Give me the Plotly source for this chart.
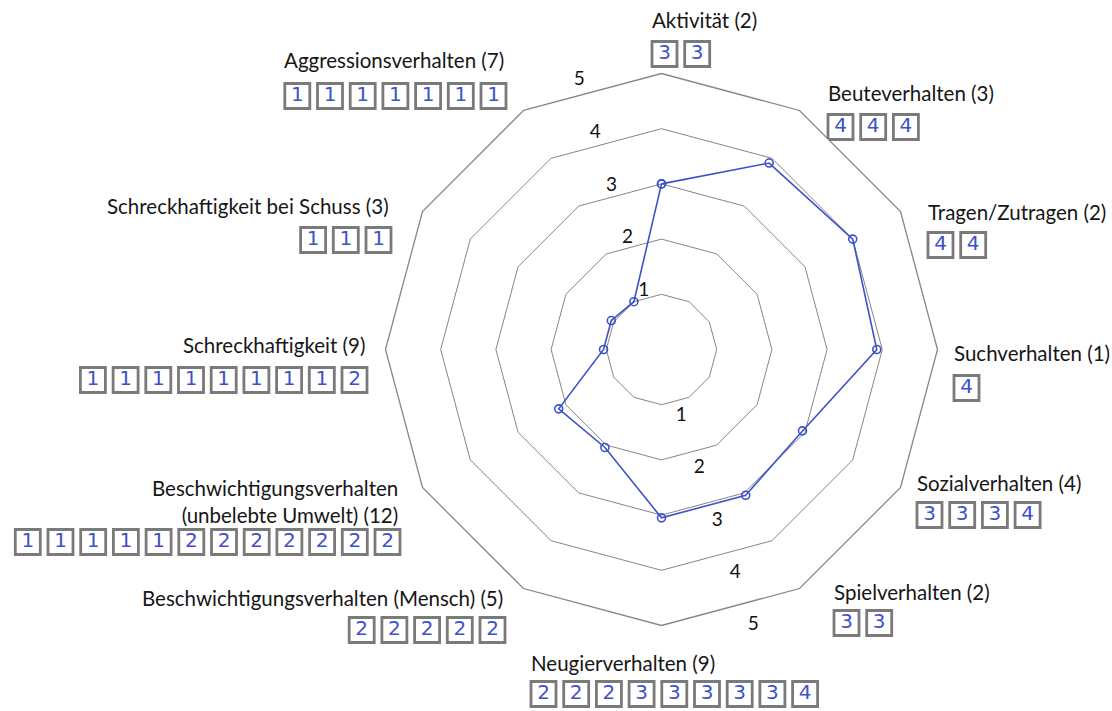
import plotly.graph_objects as go

# ---------------- data ----------------
categories = [
    "Aktivität",
    "Beuteverhalten",
    "Tragen/Zutragen",
    "Suchverhalten",
    "Sozialverhalten",
    "Spielverhalten",
    "Neugierverhalten",
    "Beschwichtigungsverhalten (Mensch)",
    "Beschwichtigungsverhalten (unbelebte Umwelt)",
    "Schreckhaftigkeit",
    "Schreckhaftigkeit bei Schuss",
    "Aggressionsverhalten",
]
display_names = [
    "Aktivität",
    "Beuteverhalten",
    "Tragen/Zutragen",
    "Suchverhalten",
    "Sozialverhalten",
    "Spielverhalten",
    "Neugierverhalten",
    "Beschwichtigungsverhalten (Mensch)",
    "Beschwichtigungsverhalten<br>(unbelebte Umwelt)",
    "Schreckhaftigkeit",
    "Schreckhaftigkeit bei Schuss",
    "Aggressionsverhalten",
]
# plotted profile
profile = [3.0, 3.9, 4.0, 3.9, 2.95, 3.05, 3.05, 2.05, 2.15, 1.05, 1.05, 1.0]

# individual ratings written in the boxes
ratings_aktivitaet = [3, 3]
ratings_beute = [4, 4, 4]
ratings_tragen = [4, 4]
ratings_such = [4]
ratings_sozial = [3, 3, 3, 4]
ratings_spiel = [3, 3]
ratings_neugier = [2, 2, 2, 3, 3, 3, 3, 3, 4]
ratings_mensch = [2, 2, 2, 2, 2]
ratings_umwelt = [1, 1, 1, 1, 1, 2, 2, 2, 2, 2, 2, 2]
ratings_schreck = [1, 1, 1, 1, 1, 1, 1, 1, 2]
ratings_schuss = [1, 1, 1]
ratings_aggression = [1, 1, 1, 1, 1, 1, 1]
ratings = [ratings_aktivitaet, ratings_beute, ratings_tragen, ratings_such,
           ratings_sozial, ratings_spiel, ratings_neugier, ratings_mensch,
           ratings_umwelt, ratings_schreck, ratings_schuss, ratings_aggression]

scale_ticks = [1, 2, 3, 4, 5]

# ---------------- layout constants ----------------
W, H = 1112, 711
CX, CY, R = 661.5, 349.5, 276.0      # centre and radius (value 5) in px
RMAX = 5.0
GRID = "#858585"
PEN = "rgb(62,82,200)"
BOXC = "#7a7a7a"
FONT = "Lato, Open Sans, sans-serif"

# label anchor (x, y of label, y of box row, side)
label_layout = [
    (650, 20, 54, "left"),
    (826, 93, 127, "left"),
    (926, 212, 245, "left"),
    (952, 353, 388, "left"),
    (915, 483, 515, "left"),
    (832, 592, 623, "left"),
    (529, 663, 694, "left"),
    (505, 598, 630, "right"),
    (400, 501, 542, "right"),
    (367, 345, 380, "right"),
    (391, 206, 240, "right"),
    (506, 60, 96, "right"),
]
BOX_STEP = 32.7
BOX_SIZE = 25

fig = go.Figure()

# profile line
fig.add_trace(go.Scatterpolar(
    r=profile + [profile[0]],
    theta=categories + [categories[0]],
    mode="lines+markers",
    line=dict(color=PEN, width=1.6),
    marker=dict(symbol="circle-open", size=8, color=PEN, line=dict(width=1.6)),
    subplot="polar",
    showlegend=False,
    hoverinfo="skip",
))

# radial scale numbers (two sets) on an overlay polar with identical scale
fig.add_trace(go.Scatterpolar(
    r=scale_ticks, theta=[343] * len(scale_ticks), mode="text",
    text=[str(v) for v in scale_ticks], textposition="middle center",
    textfont=dict(family=FONT, size=19, color="#111"),
    subplot="polar2", showlegend=False, hoverinfo="skip", cliponaxis=False,
))
fig.add_trace(go.Scatterpolar(
    r=scale_ticks, theta=[161] * len(scale_ticks), mode="text",
    text=[str(v) for v in scale_ticks], textposition="bottom center",
    textfont=dict(family=FONT, size=19, color="#111"),
    subplot="polar2", showlegend=False, hoverinfo="skip", cliponaxis=False,
))

# category labels and rating boxes
annotations = []
bx, by, bt = [], [], []
for name, vals, (lx, ly, rowy, side) in zip(display_names, ratings, label_layout):
    annotations.append(dict(
        x=lx, y=ly, xref="x", yref="y", showarrow=False,
        text=f"{name} ({len(vals)})", xanchor=side, yanchor="middle",
        align=side, font=dict(family=FONT, size=20.5, color="#161616"),
    ))
    n = len(vals)
    for i, v in enumerate(vals):
        if side == "left":
            x = lx + 2 + BOX_SIZE / 2 + i * BOX_STEP
        else:
            x = lx - BOX_SIZE / 2 - (n - 1 - i) * BOX_STEP
        bx.append(x)
        by.append(rowy)
        bt.append(str(v))

fig.add_trace(go.Scatter(
    x=bx, y=by, mode="markers+text", text=bt, textposition="middle center",
    textfont=dict(family="DejaVu Sans", size=20, color=PEN),
    marker=dict(symbol="square-open", size=BOX_SIZE, color=BOXC,
                line=dict(width=2.8, color=BOXC)),
    xaxis="x", yaxis="y", showlegend=False, hoverinfo="skip", cliponaxis=False,
))

# main polar domain
dom_x = [(CX - R) / W, (CX + R) / W]
dom_y = [(H - CY - R) / H, (H - CY + R) / H]
# overlay polar: same centre & px-per-unit, range shifted by 0.1 and extended
PX_PER_UNIT = R / RMAX
R2_LO, R2_HI = -0.1, 5.5
R2 = (R2_HI - R2_LO) * PX_PER_UNIT
dom2_x = [(CX - R2) / W, (CX + R2) / W]
dom2_y = [(H - CY - R2) / H, (H - CY + R2) / H]

fig.update_layout(
    width=W, height=H,
    margin=dict(l=0, r=0, t=0, b=0),
    paper_bgcolor="white",
    plot_bgcolor="rgba(0,0,0,0)",
    showlegend=False,
    annotations=annotations,
    xaxis=dict(range=[0, W], visible=False, domain=[0, 1], fixedrange=True),
    yaxis=dict(range=[H, 0], visible=False, domain=[0, 1], fixedrange=True),
    polar=dict(
        domain=dict(x=dom_x, y=dom_y),
        bgcolor="white",
        gridshape="linear",
        radialaxis=dict(range=[0, RMAX], tickvals=scale_ticks, showticklabels=False,
                        ticks="", showline=False, gridcolor=GRID, gridwidth=1.3),
        angularaxis=dict(type="category", rotation=90, direction="clockwise",
                         showticklabels=False, ticks="", showgrid=False,
                         showline=True, linecolor=GRID, linewidth=1.3),
    ),
    polar2=dict(
        domain=dict(x=dom2_x, y=dom2_y),
        bgcolor="rgba(0,0,0,0)",
        radialaxis=dict(range=[R2_LO, R2_HI], visible=False),
        angularaxis=dict(type="linear", rotation=90, direction="clockwise",
                         visible=False),
    ),
)

fig.write_html(
    "out.html",
    config={"displayModeBar": False},
    post_script="document.body.style.margin='0px';document.body.style.overflow='hidden';",
)
